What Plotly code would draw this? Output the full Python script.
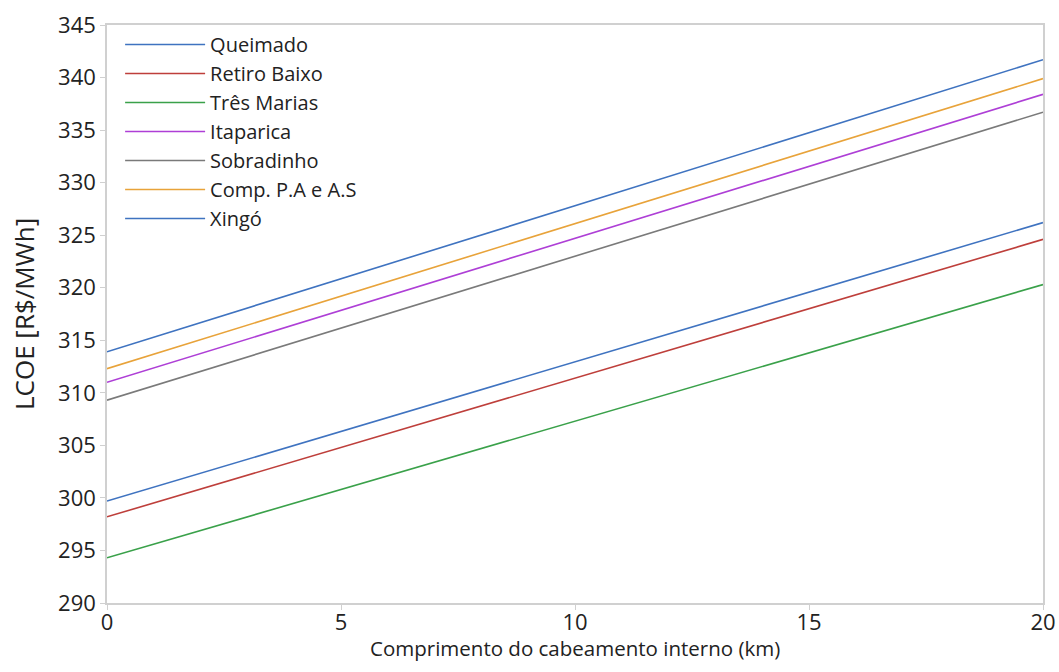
import plotly.graph_objects as go

x_km = [0, 20]
series_names = ["Queimado", "Retiro Baixo", "Três Marias", "Itaparica", "Sobradinho", "Comp. P.A e A.S", "Xingó"]
queimado = [313.9, 341.7]
retiro_baixo = [298.2, 324.6]
tres_marias = [294.3, 320.3]
itaparica = [311.0, 338.4]
sobradinho = [309.3, 336.7]
comp_pa_as = [312.3, 339.9]
xingo = [299.7, 326.2]
series_values = [queimado, retiro_baixo, tres_marias, itaparica, sobradinho, comp_pa_as, xingo]
colors = ["#3F73C0", "#BE3F3B", "#3AA14A", "#AE3FD6", "#7A7A7A", "#E8A33A", "#3F73C0"]
x_title = "Comprimento do cabeamento interno (km)"
y_title = "LCOE [R$/MWh]"

fig = go.Figure()
for name, vals, c in zip(series_names, series_values, colors):
    fig.add_trace(go.Scatter(x=x_km, y=vals, mode="lines", name=name,
                             line=dict(color=c, width=1.6)))

font_family = "Open Sans, Liberation Sans, sans-serif"
fig.update_layout(
    width=1059, height=672,
    margin=dict(l=107, r=16, t=25, b=69),
    paper_bgcolor="white", plot_bgcolor="white",
    font=dict(family=font_family, color="#222222"),
    legend=dict(x=0.014, y=1.0, xanchor="left", yanchor="top",
                font=dict(size=20, family=font_family, color="#222222"),
                bgcolor="rgba(0,0,0,0)", tracegroupgap=0, itemwidth=80),
    showlegend=True,
)
fig.update_xaxes(range=[0, 20], tickvals=[0, 5, 10, 15, 20],
                 showgrid=False, zeroline=False, automargin=False,
                 showline=True, linecolor="#D0D0D0", linewidth=1.5, mirror=True,
                 ticks="outside", ticklen=5, tickcolor="#D0D0D0",
                 ticklabelstandoff=-6,
                 tickfont=dict(size=22, family=font_family, color="#222222"))
fig.update_yaxes(range=[290, 345], tickvals=list(range(290, 346, 5)),
                 showgrid=False, zeroline=False, automargin=False,
                 showline=True, linecolor="#D0D0D0", linewidth=1.5, mirror=True,
                 ticks="outside", ticklen=5, tickcolor="#D0D0D0",
                 tickfont=dict(size=22, family=font_family, color="#222222"))
fig.add_annotation(text=x_title, xref="paper", yref="paper", x=0.5, y=0,
                   yshift=-45, xanchor="center", yanchor="middle", showarrow=False,
                   font=dict(size=20.5, family=font_family, color="#222222"))
fig.add_annotation(text=y_title, xref="paper", yref="paper", x=0, y=0.5,
                   xshift=-83, xanchor="center", yanchor="middle", showarrow=False,
                   textangle=-90,
                   font=dict(size=26, family=font_family, color="#222222"))

fig.write_html("out.html")
